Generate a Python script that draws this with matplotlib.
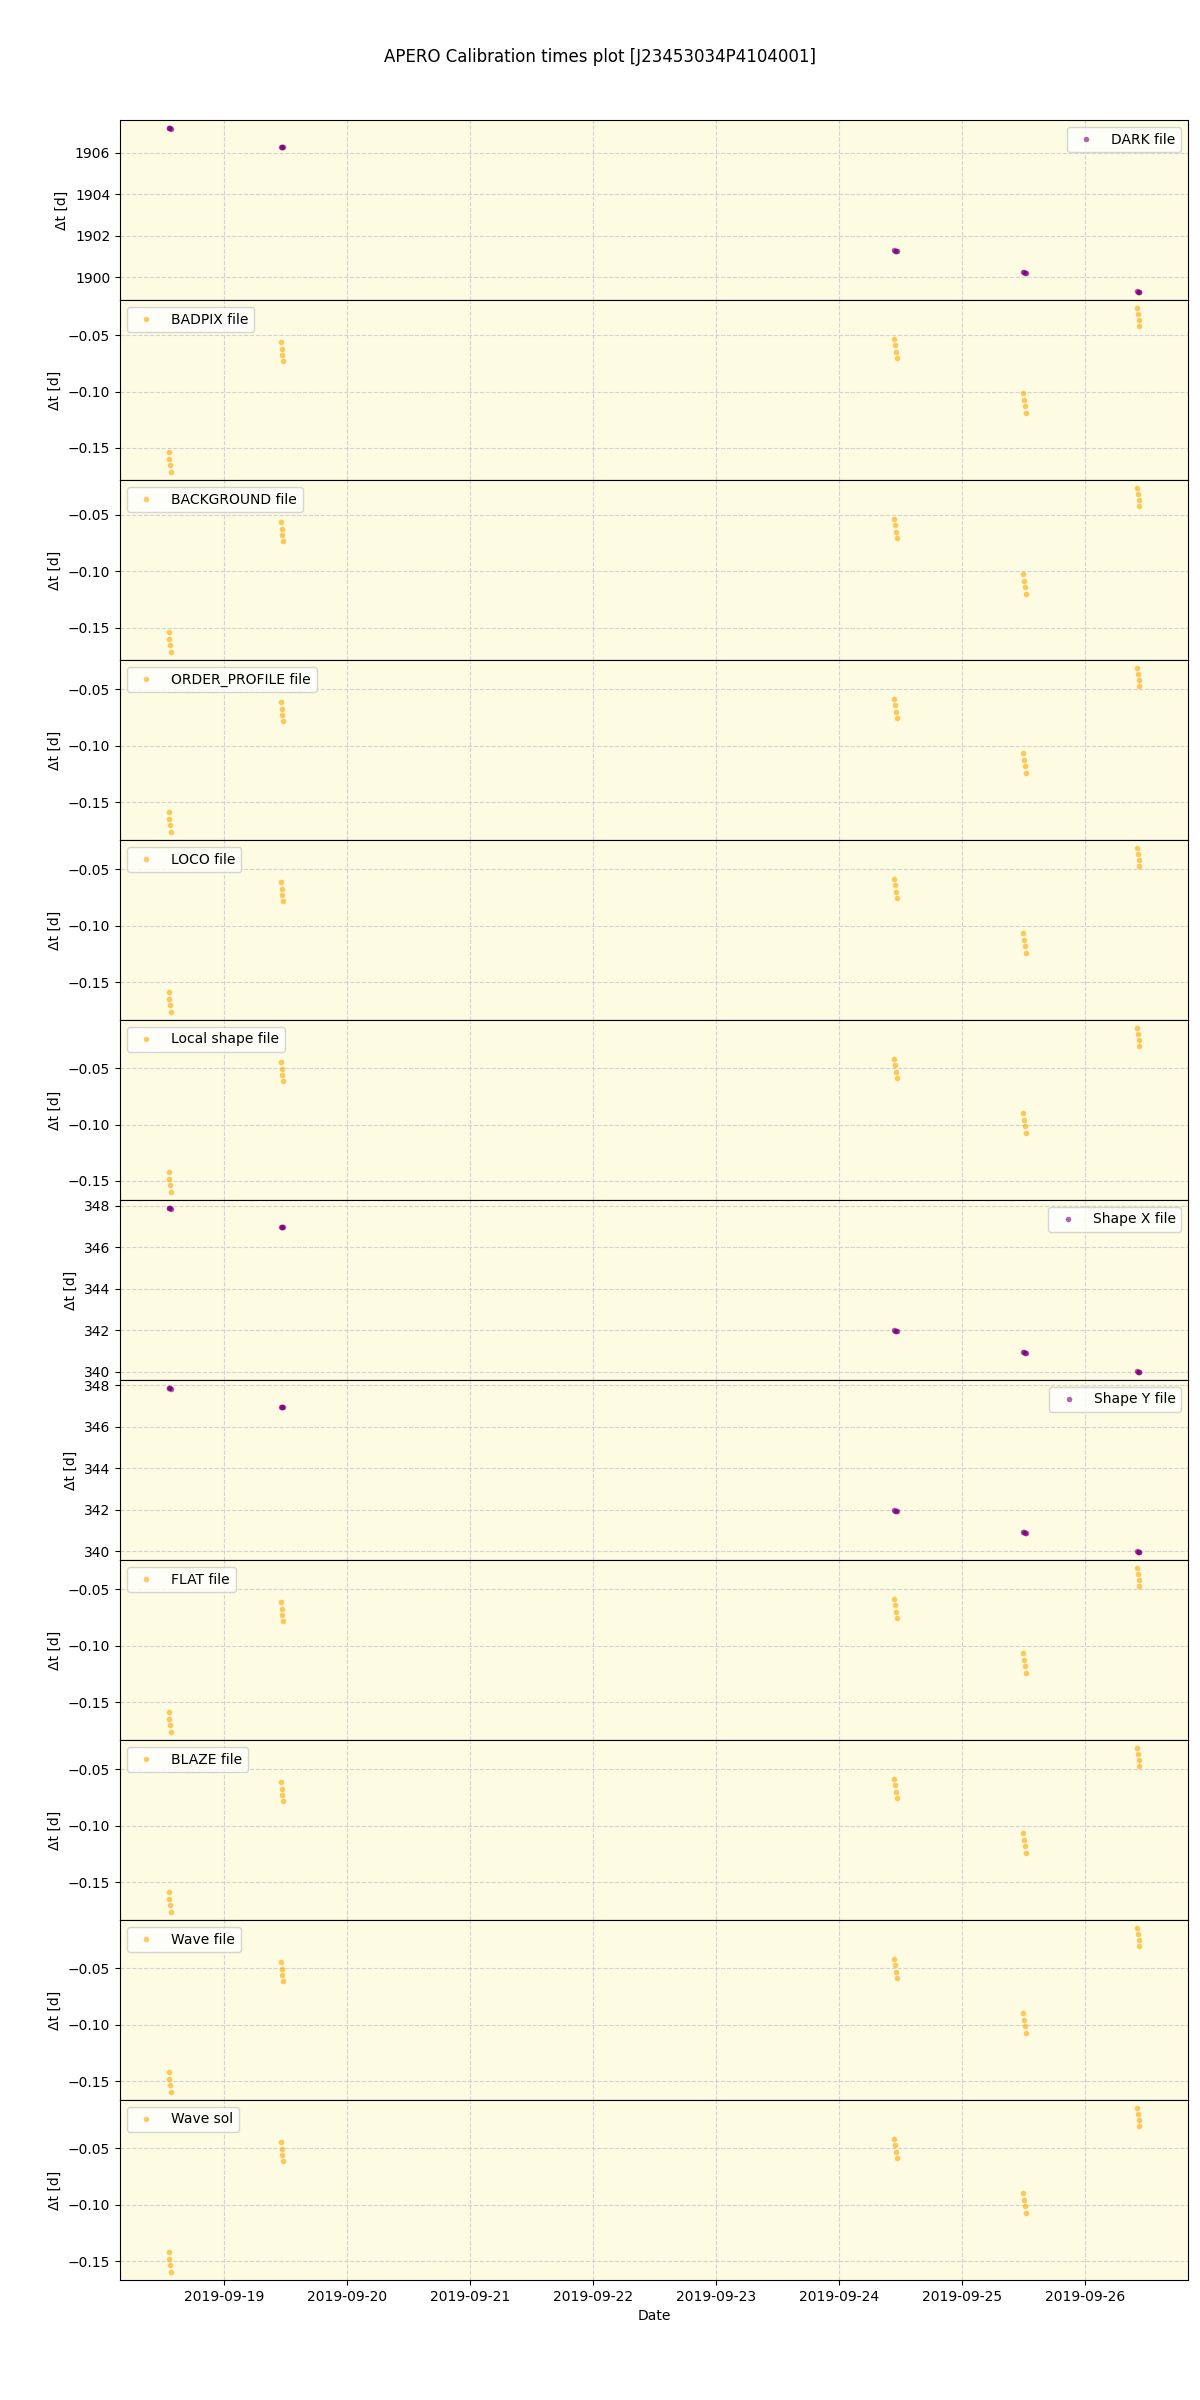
import matplotlib
matplotlib.use('Agg')
import matplotlib.pyplot as plt
import matplotlib.dates as mdates
import pandas as pd

# observation times (4 exposures per night)
obs_times = pd.to_datetime([
    '2019-09-18 13:05', '2019-09-18 13:14', '2019-09-18 13:22', '2019-09-18 13:31',
    '2019-09-19 10:59', '2019-09-19 11:08', '2019-09-19 11:16', '2019-09-19 11:25',
    '2019-09-24 10:46', '2019-09-24 10:55', '2019-09-24 11:03', '2019-09-24 11:12',
    '2019-09-25 11:57', '2019-09-25 12:06', '2019-09-25 12:14', '2019-09-25 12:23',
    '2019-09-26 10:10', '2019-09-26 10:19', '2019-09-26 10:27', '2019-09-26 10:36',
])

dark_dt = [1907.19, 1907.18, 1907.18, 1907.17, 1906.28, 1906.27, 1906.27, 1906.26,
           1901.29, 1901.28, 1901.27, 1901.27, 1900.24, 1900.23, 1900.22, 1900.22,
           1899.31, 1899.30, 1899.30, 1899.29]
badpix_dt = [-0.1535, -0.1597, -0.1650, -0.1712, -0.0562, -0.0624, -0.0677, -0.0730,
             -0.0535, -0.0588, -0.0650, -0.0703, -0.1014, -0.1076, -0.1129, -0.1191,
             -0.0261, -0.0314, -0.0367, -0.0420]
background_dt = [-0.1535, -0.1597, -0.1650, -0.1712, -0.0565, -0.0626, -0.0679, -0.0732,
                 -0.0538, -0.0591, -0.0653, -0.0706, -0.1021, -0.1082, -0.1135, -0.1197,
                 -0.0265, -0.0318, -0.0371, -0.0424]
order_profile_dt = [-0.1585, -0.1647, -0.1700, -0.1762, -0.0615, -0.0676, -0.0729, -0.0782,
                    -0.0588, -0.0641, -0.0703, -0.0756, -0.1062, -0.1123, -0.1176, -0.1238,
                    -0.0315, -0.0368, -0.0421, -0.0474]
loco_dt = [-0.1585, -0.1647, -0.1700, -0.1762, -0.0615, -0.0676, -0.0729, -0.0782,
           -0.0588, -0.0641, -0.0703, -0.0756, -0.1062, -0.1123, -0.1176, -0.1238,
           -0.0315, -0.0368, -0.0421, -0.0474]
shapel_dt = [-0.1421, -0.1482, -0.1535, -0.1597, -0.0444, -0.0506, -0.0559, -0.0612,
             -0.0418, -0.0471, -0.0532, -0.0585, -0.0894, -0.0956, -0.1009, -0.1071,
             -0.0144, -0.0197, -0.0250, -0.0303]
shapex_dt = [347.89, 347.88, 347.88, 347.87, 346.98, 346.97, 346.97, 346.96,
             341.99, 341.98, 341.97, 341.97, 340.94, 340.93, 340.92, 340.92,
             340.01, 340.00, 340.00, 339.99]
shapey_dt = [347.87, 347.86, 347.86, 347.85, 346.96, 346.95, 346.95, 346.94,
             341.97, 341.96, 341.95, 341.95, 340.92, 340.91, 340.90, 340.90,
             339.99, 339.98, 339.98, 339.97]
flat_dt = [-0.1585, -0.1647, -0.1700, -0.1762, -0.0615, -0.0676, -0.0729, -0.0782,
           -0.0588, -0.0641, -0.0703, -0.0756, -0.1062, -0.1123, -0.1176, -0.1238,
           -0.0315, -0.0368, -0.0421, -0.0474]
blaze_dt = [-0.1585, -0.1647, -0.1700, -0.1762, -0.0615, -0.0676, -0.0729, -0.0782,
            -0.0588, -0.0641, -0.0703, -0.0756, -0.1062, -0.1123, -0.1176, -0.1238,
            -0.0315, -0.0368, -0.0421, -0.0474]
wave_file_dt = [-0.1418, -0.1479, -0.1532, -0.1594, -0.0447, -0.0509, -0.0562, -0.0615,
                -0.0418, -0.0471, -0.0532, -0.0585, -0.0894, -0.0956, -0.1009, -0.1071,
                -0.0144, -0.0197, -0.0250, -0.0303]
wave_sol_dt = [-0.1418, -0.1479, -0.1532, -0.1594, -0.0447, -0.0509, -0.0562, -0.0615,
               -0.0418, -0.0471, -0.0532, -0.0585, -0.0894, -0.0956, -0.1009, -0.1071,
               -0.0144, -0.0197, -0.0250, -0.0303]

labels = ['DARK file', 'BADPIX file', 'BACKGROUND file', 'ORDER_PROFILE file', 'LOCO file',
          'Local shape file', 'Shape X file', 'Shape Y file', 'FLAT file', 'BLAZE file',
          'Wave file', 'Wave sol']
series = [dark_dt, badpix_dt, background_dt, order_profile_dt, loco_dt, shapel_dt,
          shapex_dt, shapey_dt, flat_dt, blaze_dt, wave_file_dt, wave_sol_dt]
colours = ['purple', 'orange', 'orange', 'orange', 'orange', 'orange',
           'purple', 'purple', 'orange', 'orange', 'orange', 'orange']
legend_loc = ['upper right', 'upper left', 'upper left', 'upper left', 'upper left', 'upper left',
              'upper right', 'upper right', 'upper left', 'upper left', 'upper left', 'upper left']

fig, axes = plt.subplots(12, 1, figsize=(12, 24), dpi=100, sharex=True)
fig.subplots_adjust(left=0.1, right=0.99, top=0.95, bottom=0.05, hspace=0)
fig.suptitle('APERO Calibration times plot [J23453034P4104001]', y=0.98)

for ax, lab, yv, col, loc in zip(axes, labels, series, colours, legend_loc):
    ax.set_facecolor('#fdfbe1')
    ax.plot(obs_times, yv, ls='none', marker='o', ms=4, mew=0, color=col, alpha=0.6,
            label=lab)
    ax.set_ylabel('\u0394t [d]')
    ax.grid(True, linestyle='--', color='#c8c8d0', alpha=0.8)
    ax.legend(loc=loc)

axes[-1].xaxis.set_major_locator(mdates.DayLocator())
axes[-1].xaxis.set_major_formatter(mdates.DateFormatter('%Y-%m-%d'))
axes[-1].set_xlabel('Date')

plt.savefig('out.png')
